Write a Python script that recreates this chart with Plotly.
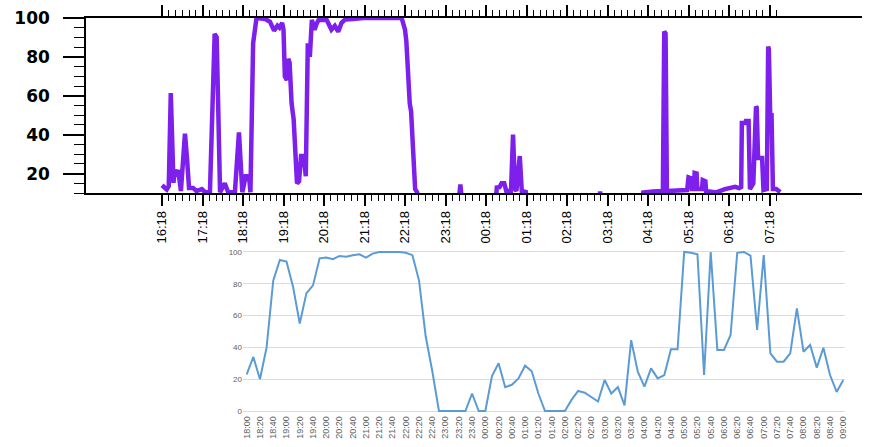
import pandas as pd
import plotly.graph_objects as go

# ---- upper panel: fine-resolution trace (purple) ----
top_times = [
    "16:18", "16:25", "16:28", "16:31", "16:35", "16:37", "16:40", "16:42", "16:46",
    "16:52", "16:55", "16:58", "17:04", "17:09", "17:17", "17:22", "17:29", "17:36",
    "17:39", "17:44", "17:51", "17:56", "18:06", "18:12", "18:17", "18:22", "18:27",
    "18:29", "18:33", "18:38", "18:51", "18:58", "19:04", "19:09", "19:12", "19:16",
    "19:18", "19:20", "19:23", "19:25", "19:27", "19:30", "19:33", "19:38", "19:41",
    "19:44", "19:48", "19:51", "19:54", "19:57", "20:00", "20:04", "20:07", "20:10",
    "20:22", "20:29", "20:34", "20:39", "20:44", "20:49", "21:01", "21:16", "22:13",
    "22:18", "22:20", "22:23", "22:25", "22:27", "22:30", "22:33", "22:36", "22:42",
    "23:36", "23:40", "23:44", "00:31", "00:34", "00:38", "00:41", "00:45", "00:48",
    "00:55", "00:58", "01:01", "01:03", "01:08", "01:11", "01:17", "01:20", "03:05",
    "03:07", "03:09", "04:08", "04:11", "04:25", "04:40", "04:42", "04:44", "04:46",
    "05:05", "05:16", "05:18", "05:22", "05:23", "05:26", "05:27", "05:30", "05:31",
    "05:38", "05:39", "05:43", "05:44", "05:59", "06:12", "06:27", "06:33", "06:36",
    "06:37", "06:42", "06:43", "06:47", "06:49", "06:54", "06:58", "06:59", "07:01",
    "07:07", "07:09", "07:14", "07:16", "07:17", "07:19", "07:21", "07:23", "07:28",
    "07:34",
]
top_values = [
    14, 11.8, 13.5, 61.4, 15.2, 22, 18.6, 22, 11,
    40.5, 28, 12.6, 12.6, 11, 12, 10.4, 10.4, 91.8,
    90, 10.4, 15, 10.4, 10.4, 41.2, 10.4, 18.6, 18.6,
    10.4, 87, 100, 99.5, 98, 93.5, 96, 95, 97.5,
    94, 70, 68, 79, 77, 56, 48, 15, 16,
    29, 29, 18.6, 87, 80, 99, 94, 97, 99,
    99, 94, 96, 93, 97.5, 99.2, 99.5, 100, 100,
    94, 88, 66, 56, 52, 32, 12, 10.3, 0,
    0, 14.4, 0, 0, 12.8, 13, 15, 15, 11,
    11, 40, 12, 11, 29, 11, 10.5, 0, 0,
    10.8, 0, 0, 10.2, 10.8, 11, 93, 92, 11,
    11.5, 11.5, 18, 17.5, 12, 12, 20.3, 20, 12,
    12, 16.6, 16, 11, 10.3, 12, 13.2, 12.5, 13,
    46, 46, 47, 47, 12, 15, 54.5, 54, 28,
    28, 11.5, 12, 85.3, 84, 50, 50, 12, 12,
    10.5,
]
top_ticks = [
    "16:18", "17:18", "18:18", "19:18", "20:18", "21:18", "22:18", "23:18",
    "00:18", "01:18", "02:18", "03:18", "04:18", "05:18", "06:18", "07:18",
]
top_yticks = [20, 40, 60, 80, 100]

# ---- lower panel: 10-minute averages (blue) ----
low_start, low_end = "18:00", "09:00"
low_values = [
    23, 34, 20, 40, 82, 95, 94, 78, 55, 74,
    79, 96, 96.5, 95.5, 97.5, 97, 98, 98.5, 96.5, 99,
    100, 100, 100, 100, 99.5, 98, 82, 47, 25, 0,
    0, 0, 0, 0, 11, 0, 0, 22, 30, 15,
    16.5, 20.5, 28.5, 25, 11, 0, 0, 0, 0, 7,
    12.6, 11.5, 9, 6, 19.5, 11, 15, 3.5, 44.6, 24.7,
    15.3, 26.8, 20.5, 22.6, 38.8, 38.8, 100, 99.5, 98.5, 22.6,
    100, 38.4, 38.4, 47.8, 99.5, 100, 97.7, 51, 98, 36.3,
    31, 31, 36.3, 64.6, 37.3, 41.5, 27.3, 39.8, 22.6, 12,
    19.5,
]
low_yticks = [0, 20, 40, 60, 80, 100]

BASE = pd.Timestamp("2021-03-01")


def stamp(hhmm):
    """Clock time on an overnight run: afternoon/evening on day one, morning on day two."""
    h, m = map(int, hhmm.split(":"))
    return BASE + pd.Timedelta(days=0 if h >= 12 else 1, hours=h, minutes=m)


W, H = 870, 447


def xdom(left, right):
    return [left / W, right / W]


def ydom(bottom, top):
    return [1 - bottom / H, 1 - top / H]


top_x = [stamp(t) for t in top_times]
top_tickvals = [stamp(t) for t in top_ticks]
top_minor = list(pd.date_range(stamp(top_ticks[0]), stamp("07:28"), freq="10min"))

low_x = list(pd.date_range(stamp(low_start), stamp(low_end), freq="10min"))
low_tickvals = list(pd.date_range(stamp(low_start), stamp(low_end), freq="20min"))
low_ticktext = [t.strftime("%H:%M") for t in low_tickvals]

fig = go.Figure()
fig.add_trace(go.Scatter(
    x=top_x, y=top_values, mode="lines",
    line=dict(color="#7D20EC", width=4.5), xaxis="x", yaxis="y",
    hoverinfo="skip", showlegend=False,
))
fig.add_trace(go.Scatter(
    x=low_x, y=low_values, mode="lines",
    line=dict(color="#5B9BD5", width=2), xaxis="x2", yaxis="y3",
    showlegend=False,
))

tick_font = dict(family="Liberation Sans", size=13, color="black")

fig.update_layout(
    width=W, height=H,
    margin=dict(l=0, r=0, t=0, b=0, autoexpand=False),
    paper_bgcolor="white", plot_bgcolor="white",
    xaxis=dict(
        domain=xdom(86, 862), anchor="y", type="date", automargin=False,
        range=[stamp("14:25") + pd.Timedelta(seconds=24), stamp("09:35")],
        tickmode="array", tickvals=top_tickvals, ticktext=top_ticks,
        tickangle=-90, tickfont=tick_font,
        ticks="outside", ticklen=11, tickwidth=1.5, tickcolor="black",
        minor=dict(tickmode="array", tickvals=top_minor, ticks="outside",
                   ticklen=6, tickwidth=1, tickcolor="black"),
        showline=True, linecolor="black", linewidth=1.5, mirror="ticks",
        showgrid=False, zeroline=False,
    ),
    yaxis=dict(
        domain=ydom(193, 18), anchor="x", range=[10, 100], automargin=False,
        tickmode="array", tickvals=top_yticks,
        tickfont=dict(family="DejaVu Sans", size=17, color="black", weight="bold"),
        ticks="outside", ticklen=21, tickwidth=1.5, tickcolor="black",
        ticklabelstandoff=10,
        minor=dict(tickmode="array", tickvals=list(range(10, 101, 5)),
                   ticks="outside", ticklen=10, tickwidth=1, tickcolor="black"),
        showline=True, linecolor="black", linewidth=1.5,
        showgrid=False, zeroline=False,
    ),
    yaxis2=dict(
        overlaying="y", anchor="x", side="right", range=[10, 100], automargin=False,
        tickmode="array", tickvals=list(range(10, 101, 5)),
        showticklabels=False, ticks="outside", ticklen=6, tickwidth=1,
        tickcolor="black", showline=True, linecolor="black", linewidth=2.5,
        showgrid=False, zeroline=False,
    ),
    xaxis2=dict(
        domain=xdom(243, 845), anchor="y3", type="date", automargin=False,
        range=[stamp(low_start) - pd.Timedelta(minutes=5.6),
               stamp(low_end) + pd.Timedelta(minutes=2.6)],
        tickmode="array", tickvals=low_tickvals, ticktext=low_ticktext,
        tickangle=-90, tickfont=dict(family="Liberation Sans", size=9, color="#5E5E5E"),
        ticks="", showline=False, showgrid=False, zeroline=False,
    ),
    yaxis3=dict(
        domain=ydom(413.4, 249.6), anchor="x2", range=[-1.5, 101.5], automargin=False,
        tickmode="array", tickvals=low_yticks,
        tickfont=dict(family="Liberation Sans", size=8, color="#5E5E5E"),
        showgrid=True, gridcolor="#DCDCDC", gridwidth=1,
        showline=False, zeroline=False, ticks="",
    ),
)

fig.write_html("out.html")
